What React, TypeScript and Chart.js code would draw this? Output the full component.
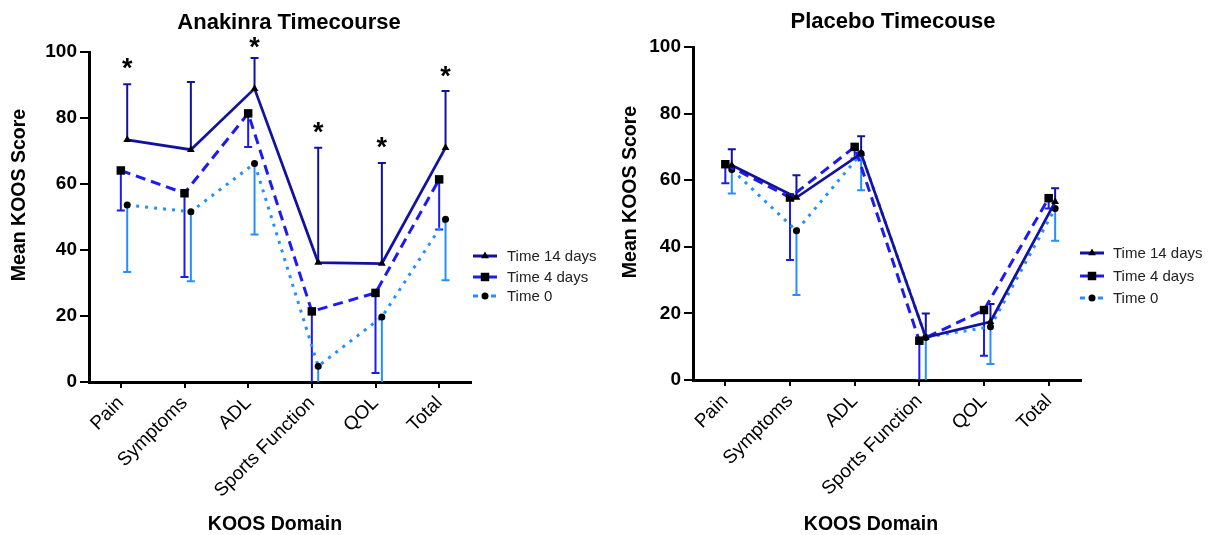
import React, { useEffect, useRef } from "react";
import { Chart, registerables } from "chart.js";

Chart.register(...registerables);

// ---------- DATA ----------
const categories = ["Pain", "Symptoms", "ADL", "Sports Function", "QOL", "Total"];
const seriesLabels = ["Time 14 days", "Time 4 days", "Time 0"];

const anakinraDay14 = [73.4, 70.4, 88.9, 36.2, 35.9, 71.0];
const anakinraDay14Err = [16.8, 20.5, 9.3, 34.8, 30.5, 17.2];
const anakinraDay4 = [64.1, 57.2, 81.4, 21.4, 27.0, 61.4];
const anakinraDay4Err = [12.1, 25.4, 10.2, 25.0, 24.3, 15.2];
const anakinraDay0 = [53.6, 51.6, 66.2, 4.8, 19.7, 49.3];
const anakinraDay0Err = [20.3, 21.1, 21.5, 15.0, 25.0, 18.5];
const anakinraStars = [96.5, null, 103, 77, 72.7, 94];

const placeboDay14 = [64.5, 54.8, 68.0, 12.8, 17.5, 53.5];
const placeboDay14Err = [4.8, 6.7, 5.2, 7.2, 5.3, 4.1];
const placeboDay4 = [64.8, 54.8, 70.0, 11.8, 21.0, 54.6];
const placeboDay4Err = [5.7, 18.8, 3.5, 11.8, 13.7, 3.1];
const placeboDay0 = [63.2, 44.8, 68.0, 12.8, 16.0, 51.5];
const placeboDay0Err = [7.2, 19.3, 11.0, 15.0, 11.2, 9.7];
const placeboStars = [null, null, null, null, null, null];

// ---------- STYLE ----------
const FONT = "'Liberation Sans', Arial, Helvetica, sans-serif";
const NAVY = "#1212a0";
const BLUE = "#1c1cf2";
const LIGHT = "#2490ff";
const seriesColors = [NAVY, BLUE, LIGHT];
const seriesDash = [[], [10, 6], [3, 6]];
const seriesWidth = [2.75, 3, 3];
const seriesPoint = ["triangle", "rect", "circle"];
const seriesRadius = [4.5, 6, 3.5];
const seriesOffset = [0.1, 0, 0.1];
const seriesErrDir = [1, -1, -1];

type Spec = {
  title: string;
  values: number[][];
  errors: number[][];
  stars: (number | null)[];
  padTop: number;
  padRight: number;
  yAxisW: number;
  xAxisH: number;
  titlePos: [number, number];
  yTitlePos: [number, number];
  xTitlePos: [number, number];
  legendX: number;
  legendTextX: number;
  legendYs: number[];
};

const specs: Spec[] = [
  {
    title: "Anakinra Timecourse",
    values: [anakinraDay14, anakinraDay4, anakinraDay0],
    errors: [anakinraDay14Err, anakinraDay4Err, anakinraDay0Err],
    stars: anakinraStars,
    padTop: 52,
    padRight: 604 - 471,
    yAxisW: 89,
    xAxisH: 535 - 382,
    titlePos: [289, 23],
    yTitlePos: [20, 195],
    xTitlePos: [275, 525],
    legendX: 473,
    legendTextX: 507,
    legendYs: [256, 277, 296],
  },
  {
    title: "Placebo Timecouse",
    values: [placeboDay14, placeboDay4, placeboDay0],
    errors: [placeboDay14Err, placeboDay4Err, placeboDay0Err],
    stars: placeboStars,
    padTop: 47,
    padRight: 604 - 477,
    yAxisW: 89,
    xAxisH: 535 - 380,
    titlePos: [289, 22],
    yTitlePos: [27, 192],
    xTitlePos: [267, 525],
    legendX: 476,
    legendTextX: 509,
    legendYs: [253, 276, 298],
  },
];

function drawMarker(ctx: CanvasRenderingContext2D, style: string, x: number, y: number, r: number) {
  ctx.fillStyle = "#000";
  ctx.beginPath();
  if (style === "triangle") {
    ctx.moveTo(x, y - r);
    ctx.lineTo(x + r * 0.866, y + r * 0.5);
    ctx.lineTo(x - r * 0.866, y + r * 0.5);
    ctx.closePath();
  } else if (style === "rect") {
    const s = r * Math.SQRT1_2;
    ctx.rect(x - s, y - s, 2 * s, 2 * s);
  } else {
    ctx.arc(x, y, r, 0, Math.PI * 2);
  }
  ctx.fill();
}

function makePlugins(spec: Spec) {
  const errorBars = {
    id: "errorBars",
    beforeDatasetsDraw(chart: any) {
      const { ctx, chartArea, scales } = chart;
      const xs = scales.x;
      const ys = scales.y;
      ctx.save();
      ctx.beginPath();
      ctx.rect(chartArea.left, chartArea.top - 20, chartArea.right - chartArea.left, chartArea.bottom - chartArea.top + 20);
      ctx.clip();
      chart.data.datasets.forEach((ds: any) => {
        ds.data.forEach((p: any, i: number) => {
          const e = ds.errors[i];
          if (e == null) return;
          const px = xs.getPixelForValue(p.x);
          const py = ys.getPixelForValue(p.y);
          const ey = ys.getPixelForValue(p.y + ds.errDir * e);
          ctx.strokeStyle = ds.borderColor;
          ctx.lineWidth = 2;
          ctx.setLineDash([]);
          ctx.beginPath();
          ctx.moveTo(px, py);
          ctx.lineTo(px, ey);
          ctx.moveTo(px - 4, ey);
          ctx.lineTo(px + 4, ey);
          ctx.stroke();
        });
      });
      ctx.restore();
    },
  };

  const annotations = {
    id: "annotations",
    afterDraw(chart: any) {
      const { ctx, scales } = chart;
      const xs = scales.x;
      const ys = scales.y;
      ctx.save();
      ctx.fillStyle = "#000";
      // significance stars
      ctx.font = `bold 27px ${FONT}`;
      ctx.textAlign = "center";
      ctx.textBaseline = "alphabetic";
      const m = ctx.measureText("*");
      const adj = (m.actualBoundingBoxAscent - m.actualBoundingBoxDescent) / 2;
      spec.stars.forEach((v, i) => {
        if (v == null) return;
        ctx.fillText("*", xs.getPixelForValue(i + seriesOffset[0]), ys.getPixelForValue(v) + adj);
      });
      // title
      ctx.textBaseline = "middle";
      ctx.font = `bold 22px ${FONT}`;
      ctx.fillText(spec.title, spec.titlePos[0], spec.titlePos[1]);
      // x title
      ctx.font = `bold 19.5px ${FONT}`;
      ctx.fillText("KOOS Domain", spec.xTitlePos[0], spec.xTitlePos[1]);
      // y title
      ctx.save();
      ctx.translate(spec.yTitlePos[0], spec.yTitlePos[1]);
      ctx.rotate(-Math.PI / 2);
      ctx.fillText("Mean KOOS Score", 0, 0);
      ctx.restore();
      // legend
      ctx.font = `15px ${FONT}`;
      ctx.textAlign = "left";
      seriesLabels.forEach((lab, k) => {
        const y = spec.legendYs[k];
        ctx.strokeStyle = seriesColors[k];
        ctx.lineWidth = 3;
        ctx.setLineDash(k === 2 ? [5, 4] : []);
        ctx.beginPath();
        ctx.moveTo(spec.legendX, y);
        ctx.lineTo(spec.legendX + 24, y);
        ctx.stroke();
        ctx.setLineDash([]);
        drawMarker(ctx, seriesPoint[k], spec.legendX + 12, y, seriesRadius[k]);
        ctx.fillStyle = "#222";
        ctx.fillText(lab, spec.legendTextX, y + 1);
        ctx.fillStyle = "#000";
      });
      ctx.restore();
    },
  };
  return [errorBars, annotations];
}

function makeConfig(spec: Spec): any {
  const datasets = seriesLabels.map((label, k) => ({
    label,
    data: spec.values[k].map((v, i) => ({ x: i + seriesOffset[k], y: v })),
    errors: spec.errors[k],
    errDir: seriesErrDir[k],
    borderColor: seriesColors[k],
    backgroundColor: seriesColors[k],
    borderWidth: seriesWidth[k],
    borderDash: seriesDash[k],
    pointStyle: seriesPoint[k],
    pointRadius: seriesRadius[k],
    pointBackgroundColor: "#000",
    pointBorderColor: "#000",
    pointBorderWidth: 0,
    fill: false,
    tension: 0,
  }));
  return {
    type: "line",
    data: { datasets },
    options: {
      responsive: false,
      animation: false,
      events: [],
      layout: { padding: { left: 0, top: spec.padTop, right: spec.padRight, bottom: 0 } },
      plugins: {
        legend: { display: false },
        title: { display: false },
        tooltip: { enabled: false },
      },
      scales: {
        x: {
          type: "linear",
          min: -0.5,
          max: 5.5,
          afterBuildTicks: (s: any) => {
            s.ticks = categories.map((_, i) => ({ value: i }));
          },
          afterFit: (s: any) => {
            s.height = spec.xAxisH;
          },
          ticks: {
            autoSkip: false,
            minRotation: 45,
            maxRotation: 45,
            color: "#000",
            padding: 4,
            font: { family: FONT, size: 19 },
            callback: (v: any) => categories[Math.round(v)] ?? "",
          },
          grid: { display: true, drawOnChartArea: false, drawTicks: true, tickLength: 6, color: "#000", lineWidth: 2 },
          border: { display: true, color: "#000", width: 3 },
        },
        y: {
          min: 0,
          max: 100,
          afterFit: (s: any) => {
            s.width = spec.yAxisW;
          },
          ticks: {
            stepSize: 20,
            color: "#000",
            padding: 3,
            font: { family: FONT, size: 19, weight: "bold" },
          },
          grid: { display: true, drawOnChartArea: false, drawTicks: true, tickLength: 9, color: "#000", lineWidth: 2 },
          border: { display: true, color: "#000", width: 3 },
        },
      },
    },
    plugins: makePlugins(spec),
  };
}

function KoosChart({ spec }: { spec: Spec }) {
  const ref = useRef<HTMLCanvasElement | null>(null);
  useEffect(() => {
    if (!ref.current) return;
    const chart = new Chart(ref.current, makeConfig(spec));
    return () => chart.destroy();
  }, [spec]);
  return <canvas ref={ref} width={604} height={535} style={{ display: "block", width: 604, height: 535 }} />;
}

export default function App() {
  return (
    <div
      style={{
        position: "fixed",
        left: 0,
        top: 0,
        width: 1208,
        height: 535,
        background: "#fff",
        display: "flex",
        overflow: "hidden",
      }}
    >
      <KoosChart spec={specs[0]} />
      <KoosChart spec={specs[1]} />
    </div>
  );
}
